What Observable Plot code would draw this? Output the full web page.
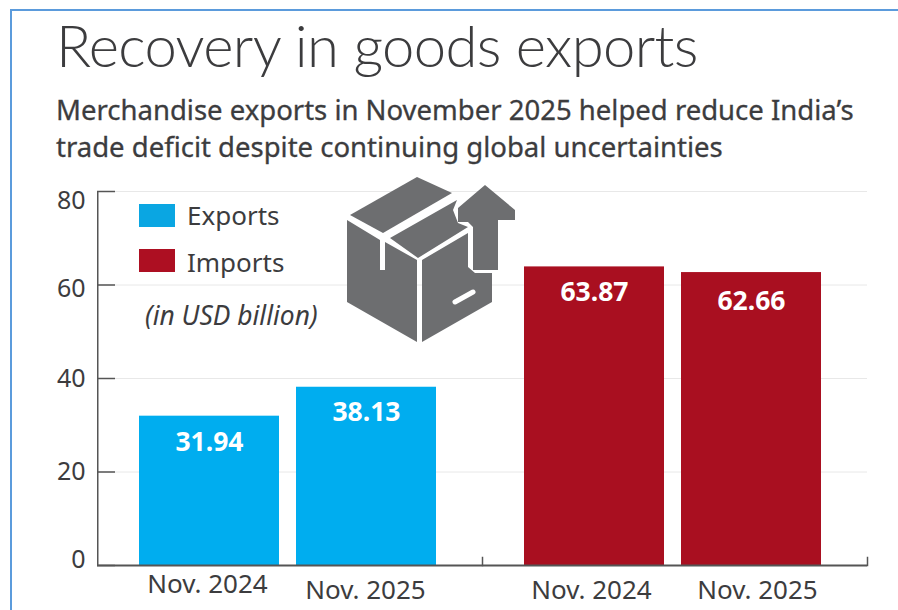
<!DOCTYPE html>
<html><head><meta charset="utf-8">
<script src="https://cdn.jsdelivr.net/npm/d3@7"></script>
<script src="https://cdn.jsdelivr.net/npm/@observablehq/plot@0.6"></script>
<style>
html,body{margin:0;padding:0;background:#fff;}
#page{position:relative;width:898px;height:610px;overflow:hidden;font-family:"Noto Sans",sans-serif;color:#3c3c3e;}
#frame{position:absolute;left:10px;top:9px;width:900px;height:700px;border-left:2px solid #5b9bdc;border-top:2px solid #5b9bdc;}
#title{position:absolute;left:56px;top:10px;font-family:Lato,sans-serif;font-weight:300;font-size:58px;line-height:70px;white-space:nowrap;letter-spacing:-0.65px;}
#sub{position:absolute;left:56px;top:91px;font-size:27.5px;line-height:37px;font-weight:400;white-space:nowrap;-webkit-text-stroke:0.3px #3c3c3e;}
#chart{position:absolute;left:0;top:170px;}
.lg{position:absolute;font-size:26px;line-height:30px;white-space:nowrap;}
.sw{position:absolute;left:139px;width:36px;height:23px;}
#icon{position:absolute;left:344px;top:176px;}
</style></head><body>
<div id="page">
<div id="frame"></div>
<div id="title">Recovery in goods exports</div>
<div id="sub">Merchandise exports in November 2025 helped reduce India’s<br>trade deficit despite continuing global uncertainties</div>
<div id="chart"></div>
<div class="sw" style="top:204px;background:#0aa6e2"></div>
<div class="lg" style="left:187px;top:200px">Exports</div>
<div class="sw" style="top:249px;background:#ad0f22"></div>
<div class="lg" style="left:187px;top:247px">Imports</div>
<div class="lg" style="left:145px;top:300px;font-style:italic;font-size:26.4px">(in USD billion)</div>
<svg id="icon" width="174" height="170" viewBox="0 0 174 170">
 <g fill="#6d6e70">
  <path d="M6 39 L73 1 L108 17 L39 57 Z"/>
  <path d="M46 62 L113 24 L109 34 L114 47 L124 51 L74 82 Z"/>
  <path d="M3 44 L36 64 L36 94 L41 94 L41 66 L73 84 L73 166 L3 126 Z"/>
  <path d="M78 84 L124 57 L124 91 L131 97 L148 97 L148 126 L78 166 Z"/>
  <path d="M141 9 L171 34 L171 44 L154 44 L154 94 L129 94 L129 51 L124 46 L114 46 L114 32 Z"/>
 </g>
 <path d="M111 126 L129 116" stroke="#fff" stroke-width="5" stroke-linecap="round"/>
</svg>
</div>
<script>
const groups = ["Exports", "Exports", "Imports", "Imports"];
const months = ["Nov. 2024", "Nov. 2025", "Nov. 2024", "Nov. 2025"];
const values = [31.94, 38.13, 63.87, 62.66];
const yTicks = [0, 20, 40, 60, 80];
const colors = ["#00adef", "#a90f20"];
const rows = values.map((v, i) => ({group: groups[i], month: months[i], value: v}));
const textColor = "#3c3c3e";
const axisColor = "#555";
const labelShift = {80: 9, 60: 4, 40: 0, 20: 0, 0: -6};
const monthShift = [[-2, 7], [-1, 13], [-3, 13], [6, 13]];
const valueShift = [26, 25, 26, 29];
const first = () => "Exports";
const chart = Plot.plot({
  width: 898, height: 440,
  marginLeft: 97, marginRight: 31, marginTop: 21, marginBottom: 45,
  style: {background: "transparent", fontFamily: "'Noto Sans',sans-serif", overflow: "visible"},
  fx: {domain: ["Exports", "Imports"], padding: 0, axis: null, label: null},
  x: {domain: ["Nov. 2024", "Nov. 2025"], paddingInner: 0.108, paddingOuter: 0.28, align: 0.475, axis: null, label: null},
  y: {domain: [0, 80], range: [395, 21], axis: null, label: null},
  color: {domain: ["Exports", "Imports"], range: colors},
  marks: [
    Plot.ruleY(yTicks.slice(1), {stroke: "#e8e8e8", strokeWidth: 1}),
    Plot.barY(rows, {fx: "group", x: "month", y: "value", fill: "group"}),
    Plot.ruleY([0], {stroke: axisColor, strokeWidth: 2}),
    Plot.rect([0], {fx: first, y1: 0, y2: 80, insetRight: 383.5, fill: axisColor}),
    Plot.ruleY(yTicks, {fx: first, insetRight: 367, stroke: axisColor, strokeWidth: 1.5}),
    Plot.frame({anchor: "right", insetTop: 366, stroke: axisColor, strokeWidth: 1.5}),
    ...rows.map((r, i) => Plot.text([r], {fx: "group", x: "month", y: "value", text: d => d.value.toFixed(2), fill: "white", fontSize: 26.5, fontWeight: 700, dy: valueShift[i]})),
    ...rows.map((r, i) => Plot.text([r], {fx: "group", x: "month", frameAnchor: "bottom", text: "month", fontSize: 26, fill: textColor, dx: monthShift[i][0], dy: 20 + monthShift[i][1]})),
    ...yTicks.map(t => Plot.text([t], {fx: first, y: d => d, frameAnchor: "left", textAnchor: "end", text: d => String(d), fontSize: 25, fill: textColor, dx: -12, dy: labelShift[t]})),
  ]
});
document.getElementById("chart").appendChild(chart);
</script>
</body></html>
